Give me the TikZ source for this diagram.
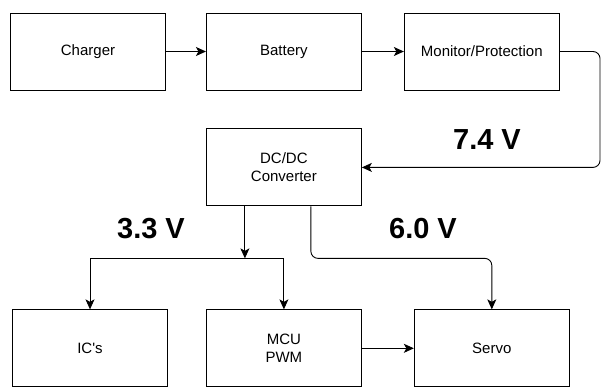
\documentclass[tikz,border=0pt]{standalone}
\usepackage{fontspec}
\setmainfont{Liberation Sans}
\usetikzlibrary{arrows.meta,positioning}

\begin{document}
\begin{tikzpicture}[x=1pt,y=-1pt,>={Stealth[length=10pt,width=9pt,inset=2.5pt]},node distance=38pt and 40pt,
blk/.style={draw,line width=0.9pt,minimum width=155pt,minimum height=77pt,align=center,font=\fontsize{15}{18}\selectfont,inner sep=0pt},
wire/.style={->,line width=0.9pt},
volt/.style={font=\fontsize{29}{32}\selectfont\bfseries}]
\useasboundingbox (0,0) rectangle (601,388);
\node[blk] (charger) at (88,51.5) {Charger};
\node[blk,right=40pt of charger] (battery) {Battery};
\node[blk,right=42pt of battery] (monitor) {Monitor/Protection};
\node[blk,below=38pt of battery] (dcdc) {DC/DC\\Converter};
\node[blk,below=103pt of dcdc] (mcu) {MCU\\PWM};
\node[blk,left=38pt of mcu] (ics) {IC\textquotesingle s};
\node[blk,right=52pt of mcu] (servo) {Servo};
\coordinate (edge) at (600,0);
\coordinate[below left=52pt and 39pt of dcdc.south] (split);
\coordinate[right=27pt of dcdc.south] (tap);
\draw[wire] (charger)--(battery);
\draw[wire] (battery)--(monitor);
\draw[wire,rounded corners=7pt] (monitor.east) -| (edge |- dcdc.east) -- (dcdc.east);
\draw[wire] (dcdc.south -| split)--(split);
\draw[wire] (split) -| (ics.north);
\draw[wire] (split) -| (mcu.north);
\draw[wire,rounded corners=7pt] (tap) |- (servo.north |- split) -- (servo.north);
\draw[wire] (mcu)--(servo);
\node[volt] at (487,140) {7.4 V};
\node[volt] at (151,229) {3.3 V};
\node[volt] at (423,229) {6.0 V};
\end{tikzpicture}
\end{document}
